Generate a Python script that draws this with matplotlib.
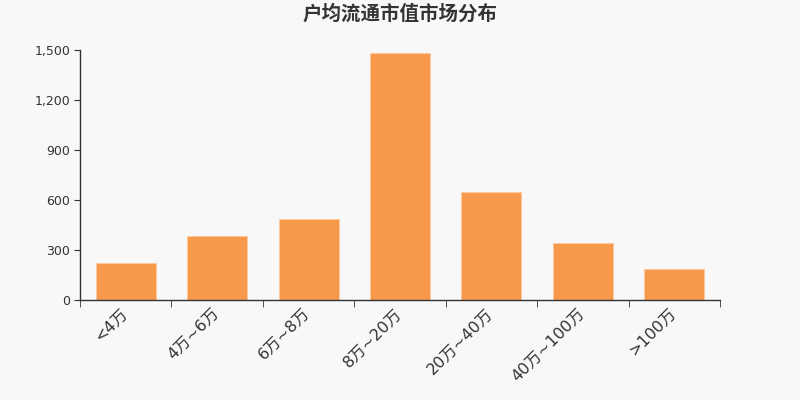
import matplotlib
matplotlib.use("Agg")
import matplotlib.pyplot as plt
import matplotlib.transforms as mtransforms
import numpy as np

plt.rcParams['font.family'] = ['DejaVu Sans', 'Noto Sans CJK SC']

categories = ["<4万", "4万~6万", "6万~8万", "8万~20万", "20万~40万", "40万~100万", ">100万"]
values = [220, 382, 486, 1482, 648, 342, 186]
y_ticks = [0, 300, 600, 900, 1200, 1500]
y_tick_labels = ["0", "300", "600", "900", "1,200", "1,500"]
title = "户均流通市值市场分布"

bg = "#F8F8F8"
bar_color = "#F7984A"
axis_color = "#333333"

fig = plt.figure(figsize=(8, 4), dpi=100, facecolor=bg)
ax = fig.add_axes([0.1, 0.25, 0.8, 0.625], facecolor=bg)

x = np.arange(len(categories))
ax.bar(x, values, width=0.656, color=bar_color, edgecolor="#FBC9A0", linewidth=0.8)

ax.set_xlim(-0.5, len(categories) - 0.5)
ax.set_ylim(0, 1500)

for s in ["top", "right"]:
    ax.spines[s].set_visible(False)
for s in ["left", "bottom"]:
    ax.spines[s].set_color(axis_color)
    ax.spines[s].set_linewidth(1)

ax.set_yticks(y_ticks)
ax.set_yticklabels(y_tick_labels, fontsize=9, color=axis_color)
ax.tick_params(axis='y', length=4, color=axis_color, pad=3)

ax.set_xticks(x)
ax.set_xticklabels(categories, rotation=45, ha='right', rotation_mode='anchor',
                   fontsize=11.5, color=axis_color)
ax.tick_params(axis='x', which='major', length=0, pad=4)
offset = mtransforms.ScaledTranslation(-6 / 100, 0, fig.dpi_scale_trans)
for lab in ax.get_xticklabels():
    lab.set_transform(lab.get_transform() + offset)
ax.set_xticks(np.arange(len(categories) + 1) - 0.5, minor=True)
ax.tick_params(axis='x', which='minor', length=5, color=axis_color)

fig.text(0.5, 0.965, title, ha='center', va='center', fontsize=14,
         fontweight='bold', color=axis_color, family=['Noto Sans CJK SC'])

fig.savefig("out.png", dpi=100, facecolor=bg)
